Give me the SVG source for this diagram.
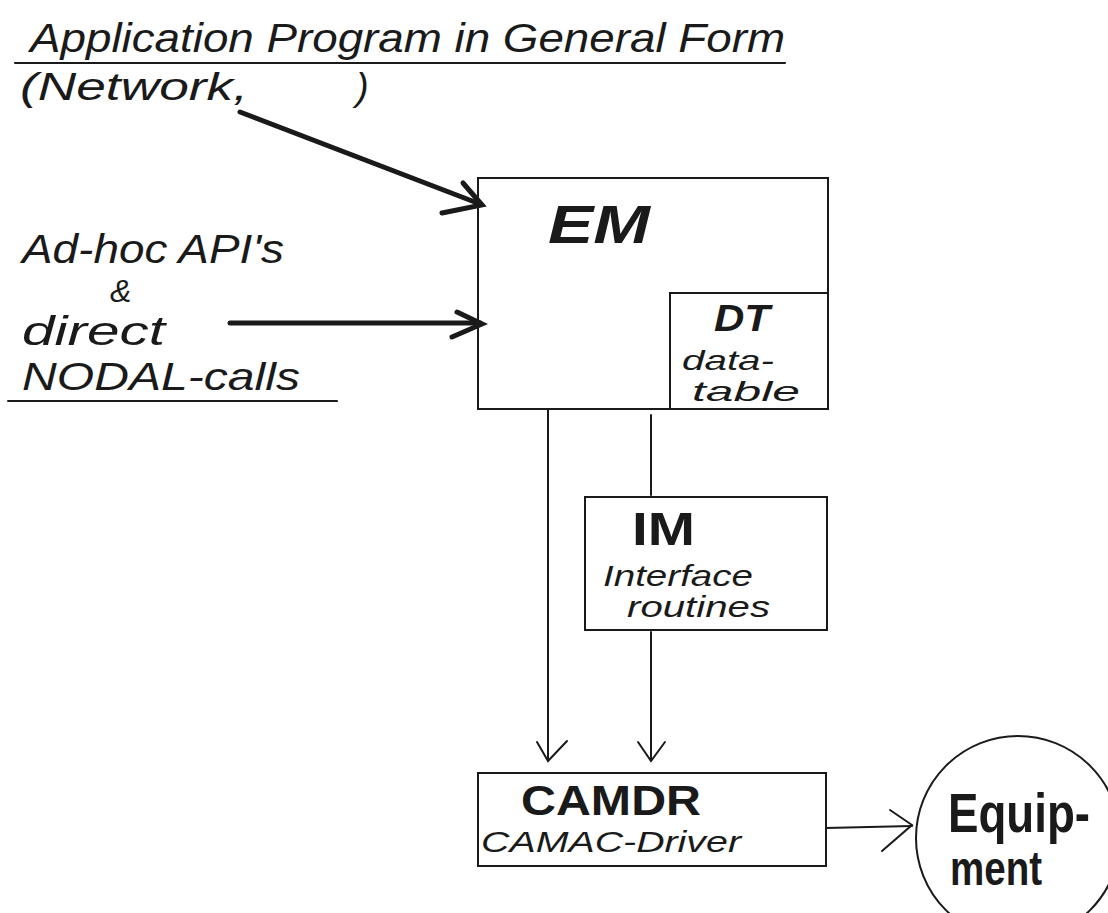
<svg xmlns="http://www.w3.org/2000/svg" width="1108" height="913" viewBox="0 0 1108 913">
<style>
.hand{font-family:"Liberation Sans","DejaVu Sans",sans-serif;fill:#1a1a1a;font-style:italic}
.bold{font-family:"Liberation Sans","DejaVu Sans",sans-serif;fill:#1a1a1a;font-weight:bold}
.box{fill:none;stroke:#1a1a1a;stroke-width:2}
.thin{fill:none;stroke:#1a1a1a;stroke-width:2;stroke-linecap:round}
.thick{fill:none;stroke:#1a1a1a;stroke-width:5;stroke-linecap:round}
</style>
<rect width="1108" height="913" fill="#ffffff"/>
<g id="title">
<text class="hand" x="30" y="52" font-size="40" textLength="755" lengthAdjust="spacingAndGlyphs">Application Program in General Form</text>
<line class="thin" x1="15" y1="63" x2="785" y2="63"/>
<text class="hand" x="20" y="100" font-size="38"><tspan textLength="228" lengthAdjust="spacingAndGlyphs">(Network,</tspan><tspan x="356">)</tspan></text>
</g>
<g id="adhoc">
<text class="hand" x="22" y="263" font-size="40" textLength="262" lengthAdjust="spacingAndGlyphs">Ad-hoc API's</text>
<text class="hand" x="110" y="302" font-size="32">&amp;</text>
<text class="hand" x="22" y="345" font-size="40" textLength="143" lengthAdjust="spacingAndGlyphs">direct</text>
<text class="hand" x="22" y="390" font-size="38" textLength="278" lengthAdjust="spacingAndGlyphs">NODAL-calls</text>
<line class="thin" x1="8" y1="401" x2="337" y2="401"/>
</g>
<g id="EM">
<rect class="box" x="478" y="178" width="350" height="231"/>
<text class="bold" x="548" y="243" font-size="54" font-style="italic" textLength="102" lengthAdjust="spacingAndGlyphs">EM</text>
</g>
<g id="DT">
<rect class="box" x="670" y="293" width="158" height="116"/>
<text class="bold" x="714" y="331" font-size="36" font-style="italic" textLength="56" lengthAdjust="spacingAndGlyphs">DT</text>
<text class="hand" x="682" y="370" font-size="28" textLength="92" lengthAdjust="spacingAndGlyphs">data-</text>
<text class="hand" x="692" y="401" font-size="28" textLength="108" lengthAdjust="spacingAndGlyphs">table</text>
</g>
<g id="IM">
<rect class="box" x="585" y="497" width="242" height="133"/>
<text class="bold" x="632" y="545" font-size="46" textLength="63" lengthAdjust="spacingAndGlyphs">IM</text>
<text class="hand" x="603" y="586" font-size="30" textLength="150" lengthAdjust="spacingAndGlyphs">Interface</text>
<text class="hand" x="627" y="617" font-size="30" textLength="143" lengthAdjust="spacingAndGlyphs">routines</text>
</g>
<g id="CAMDR">
<rect class="box" x="478" y="773" width="348" height="93"/>
<text class="bold" x="521" y="815" font-size="42" textLength="180" lengthAdjust="spacingAndGlyphs">CAMDR</text>
<text class="hand" x="481" y="852" font-size="30" font-style="normal" textLength="260" lengthAdjust="spacingAndGlyphs">CAMAC-Driver</text>
</g>
<g id="Equipment">
<circle class="box" cx="1018" cy="838" r="102"/>
<text class="bold" x="948" y="832" font-size="56" textLength="142" lengthAdjust="spacingAndGlyphs">Equip-</text>
<text class="bold" x="950" y="885" font-size="48" textLength="92" lengthAdjust="spacingAndGlyphs">ment</text>
</g>
<g id="connectors">
<line class="thick" x1="240" y1="112" x2="480" y2="204"/>
<polyline class="thick" points="463,183 482,205 442,213"/>
<line class="thick" x1="230" y1="323" x2="480" y2="323"/>
<polyline class="thick" points="457,312 482,324 452,337"/>
<line class="thin" x1="548" y1="410" x2="548" y2="760"/>
<polyline class="thin" points="537,742 548,761 567,741"/>
<line class="thin" x1="651" y1="415" x2="651" y2="495"/>
<line class="thin" x1="651" y1="632" x2="651" y2="760"/>
<polyline class="thin" points="638,742 651,761 665,742"/>
<line class="thin" x1="826" y1="828" x2="912" y2="826"/>
<polyline class="thin" points="890,810 912,825 882,851"/>
</g>
</svg>
